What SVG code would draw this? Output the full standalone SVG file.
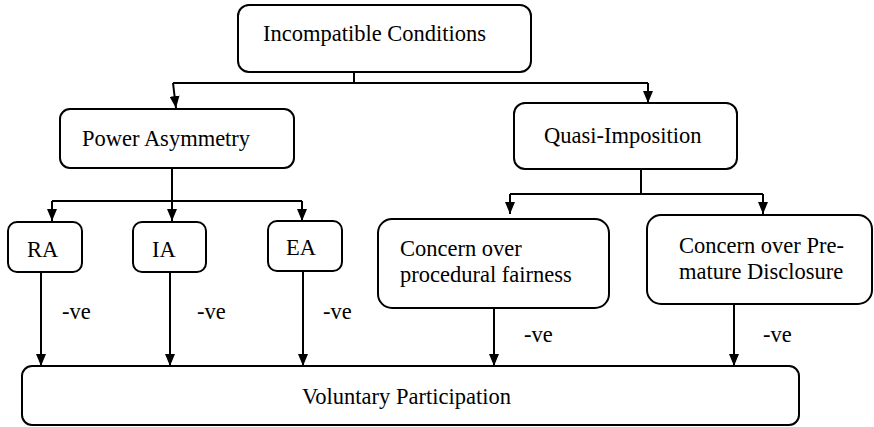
<svg xmlns="http://www.w3.org/2000/svg" width="874" height="427" viewBox="0 0 874 427">
<style>
.box{fill:#fff;stroke:#000;stroke-width:2}
.t{font-family:'Liberation Serif','Times New Roman',Tinos,'DejaVu Serif',serif;font-size:22.5px;fill:#000}
.c{fill:none;stroke:#000;stroke-width:2}
</style>
<defs>
<marker id="ah" viewBox="0 0 12 10" refX="12" refY="5" markerWidth="12" markerHeight="10" markerUnits="userSpaceOnUse" orient="auto">
<path d="M0,0 L12,5 L0,10 z" fill="#000"/>
</marker>
</defs>
<rect width="874" height="427" fill="#fff"/>
<g id="connectors">
<path class="c" d="M354,72 V83 M173,83 H648"/>
<path class="c" d="M173,83 L176,108" marker-end="url(#ah)"/>
<path class="c" d="M648,83 V103" marker-end="url(#ah)"/>
<path class="c" d="M172,168 V201 M52,201 H302"/>
<path class="c" d="M52,201 V221" marker-end="url(#ah)"/>
<path class="c" d="M172,201 V221" marker-end="url(#ah)"/>
<path class="c" d="M302,201 V221" marker-end="url(#ah)"/>
<path class="c" d="M641,169 V194 M510,194 H763"/>
<path class="c" d="M510,194 V214" marker-end="url(#ah)"/>
<path class="c" d="M763,194 V214" marker-end="url(#ah)"/>
<path class="c" d="M41,272 V366" marker-end="url(#ah)"/>
<path class="c" d="M170,272 V366" marker-end="url(#ah)"/>
<path class="c" d="M303,271 V366" marker-end="url(#ah)"/>
<path class="c" d="M494,308 V366" marker-end="url(#ah)"/>
<path class="c" d="M734,304 V366" marker-end="url(#ah)"/>
<g font-family="Liberation Serif, DejaVu Serif, serif" font-size="22.5">
<text x="62" y="319">-ve</text>
<text x="197" y="319">-ve</text>
<text x="323" y="319">-ve</text>
<text x="524" y="342">-ve</text>
<text x="763" y="342">-ve</text>
</g>
</g>
<g id="incompatible">
<rect class="box" x="238" y="5" width="293" height="67" rx="11"/>
<text class="t" x="263" y="41">Incompatible Conditions</text>
</g>
<g id="power">
<rect class="box" x="60" y="109" width="234" height="59" rx="10"/>
<text class="t" x="82" y="146">Power Asymmetry</text>
</g>
<g id="quasi">
<rect class="box" x="514" y="103" width="223" height="66" rx="11"/>
<text class="t" x="544" y="143">Quasi-Imposition</text>
</g>
<g id="ra">
<rect class="box" x="8" y="222" width="74" height="50" rx="9"/>
<text class="t" x="27" y="257">RA</text>
</g>
<g id="ia">
<rect class="box" x="133" y="222" width="73" height="50" rx="9"/>
<text class="t" x="152" y="257">IA</text>
</g>
<g id="ea">
<rect class="box" x="268" y="221" width="74" height="50" rx="9"/>
<text class="t" x="286" y="255">EA</text>
</g>
<g id="procedural">
<rect class="box" x="378" y="219" width="231" height="89" rx="14"/>
<text class="t" x="400" y="256">Concern over</text>
<text class="t" x="400" y="282">procedural fairness</text>
</g>
<g id="premature">
<rect class="box" x="647" y="215" width="225" height="89" rx="14"/>
<text class="t" x="679" y="253">Concern over Pre-</text>
<text class="t" x="679" y="279">mature Disclosure</text>
</g>
<g id="voluntary">
<rect class="box" x="22" y="366" width="777" height="59" rx="10"/>
<text class="t" x="302" y="404">Voluntary Participation</text>
</g>
</svg>
